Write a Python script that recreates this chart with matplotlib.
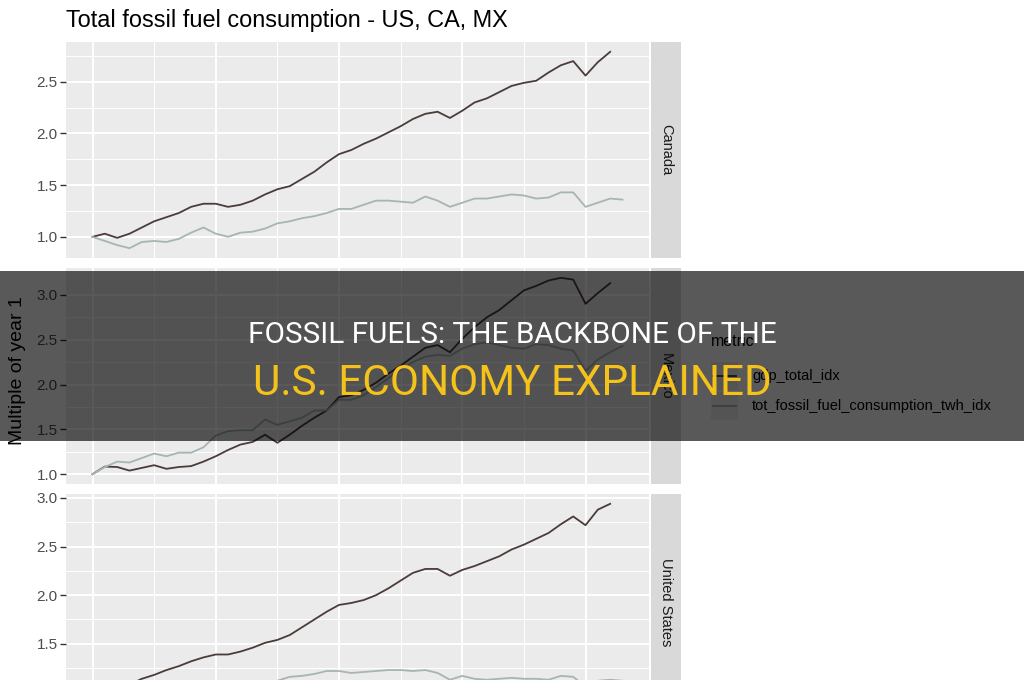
import matplotlib
matplotlib.use("Agg")
import matplotlib.pyplot as plt
from matplotlib.lines import Line2D
from matplotlib.patches import Rectangle
import numpy as np

# ── data (index, multiple of 1980 value) ─────────────────────────────────────
YEARS_GDP = list(range(1980, 2023))
YEARS_FOSSIL = list(range(1980, 2024))

COUNTRIES = ["Canada", "Mexico", "United States"]

CANADA_GDP = [1.00, 1.03, 0.99, 1.03, 1.09, 1.15, 1.19, 1.23, 1.29, 1.32,
              1.32, 1.29, 1.31, 1.35, 1.41, 1.46, 1.49, 1.56, 1.63, 1.72,
              1.80, 1.84, 1.90, 1.95, 2.01, 2.07, 2.14, 2.19, 2.21, 2.15,
              2.22, 2.30, 2.34, 2.40, 2.46, 2.49, 2.51, 2.59, 2.66, 2.70,
              2.56, 2.69, 2.79]
CANADA_FOSSIL = [1.00, 0.96, 0.92, 0.89, 0.95, 0.96, 0.95, 0.98, 1.04, 1.09,
                 1.03, 1.00, 1.04, 1.05, 1.08, 1.13, 1.15, 1.18, 1.20, 1.23,
                 1.27, 1.27, 1.31, 1.35, 1.35, 1.34, 1.33, 1.39, 1.35, 1.29,
                 1.33, 1.37, 1.37, 1.39, 1.41, 1.40, 1.37, 1.38, 1.43, 1.43,
                 1.29, 1.33, 1.37, 1.36]

MEXICO_GDP = [1.00, 1.085, 1.08, 1.04, 1.07, 1.10, 1.06, 1.08, 1.09, 1.14,
              1.20, 1.27, 1.33, 1.36, 1.44, 1.35, 1.44, 1.54, 1.63, 1.71,
              1.86, 1.88, 1.94, 2.02, 2.12, 2.21, 2.31, 2.41, 2.44, 2.36,
              2.51, 2.64, 2.75, 2.83, 2.94, 3.05, 3.10, 3.16, 3.19, 3.17,
              2.90, 3.02, 3.13]
MEXICO_FOSSIL = [1.00, 1.08, 1.14, 1.13, 1.18, 1.23, 1.20, 1.24, 1.24, 1.30,
                 1.43, 1.48, 1.49, 1.49, 1.61, 1.55, 1.59, 1.63, 1.71, 1.71,
                 1.83, 1.83, 1.88, 1.97, 2.07, 2.17, 2.25, 2.31, 2.33, 2.32,
                 2.40, 2.45, 2.47, 2.44, 2.41, 2.40, 2.45, 2.44, 2.40, 2.38,
                 2.15, 2.28, 2.36, 2.43]

US_GDP = [1.00, 1.03, 1.02, 1.08, 1.14, 1.18, 1.23, 1.27, 1.32, 1.36,
          1.39, 1.39, 1.42, 1.46, 1.51, 1.54, 1.59, 1.67, 1.75, 1.83,
          1.90, 1.92, 1.95, 2.00, 2.07, 2.15, 2.23, 2.27, 2.27, 2.20,
          2.26, 2.30, 2.35, 2.40, 2.47, 2.52, 2.58, 2.64, 2.73, 2.81,
          2.72, 2.88, 2.94]
US_FOSSIL = [1.00, 0.96, 0.92, 0.92, 0.96, 0.96, 0.97, 1.00, 1.04, 1.05,
             1.04, 1.03, 1.05, 1.07, 1.09, 1.12, 1.16, 1.17, 1.19, 1.22,
             1.22, 1.20, 1.21, 1.22, 1.23, 1.23, 1.22, 1.23, 1.20, 1.13,
             1.17, 1.14, 1.13, 1.14, 1.15, 1.14, 1.14, 1.13, 1.17, 1.16,
             1.06, 1.12, 1.13, 1.12]

SERIES = {
    "Canada": (CANADA_GDP, CANADA_FOSSIL),
    "Mexico": (MEXICO_GDP, MEXICO_FOSSIL),
    "United States": (US_GDP, US_FOSSIL),
}

METRICS = ["gdp_total_idx", "tot_fossil_fuel_consumption_twh_idx"]

# ── style ────────────────────────────────────────────────────────────────────
GDP_COLOR = "#4b3b39"
FOSSIL_COLOR = "#a6b5b4"
PANEL_BG = "#ebebeb"
STRIP_BG = "#d9d9d9"
TICK_TXT = "#4d4d4d"
YELLOW = "#f4c21b"
SANS = ["Liberation Sans", "DejaVu Sans"]
HEAD = ["Roboto", "DejaVu Sans"]

W, H = 1024, 680
fig = plt.figure(figsize=(W / 100, H / 100), dpi=100)
fig.patch.set_facecolor("white")


def px_rect(x0, y0, x1, y1):
    """pixel box (top-left origin) -> figure fraction rect"""
    return [x0 / W, 1 - y1 / H, (x1 - x0) / W, (y1 - y0) / H]


def gg_expand(lo, hi, mult=0.05):
    pad = (hi - lo) * mult
    return lo - pad, hi + pad


panel_tops = [42, 268, 494]
PANEL_H = 216
xlim = gg_expand(min(YEARS_FOSSIL), max(YEARS_FOSSIL))

for country, top in zip(COUNTRIES, panel_tops):
    gdp, fossil = SERIES[country]
    ax = fig.add_axes(px_rect(66, top, 649, top + PANEL_H))
    ax.set_facecolor(PANEL_BG)
    for s in ax.spines.values():
        s.set_visible(False)

    ax.plot(YEARS_GDP, gdp, color=GDP_COLOR, lw=1.3, zorder=3)
    ax.plot(YEARS_FOSSIL, fossil, color=FOSSIL_COLOR, lw=1.3, zorder=3)

    lo = min(min(gdp), min(fossil))
    hi = max(max(gdp), max(fossil))
    ax.set_xlim(*xlim)

    ax.set_xticks([1980, 1990, 2000, 2010, 2020])
    ax.set_xticks([1985, 1995, 2005, 2015], minor=True)
    yt = np.arange(1.0, 3.01, 0.5)
    ax.set_yticks(yt)
    ax.set_yticks(yt[:-1] + 0.25, minor=True)
    ax.set_yticklabels([f"{v:.1f}" for v in yt])
    ax.set_ylim(*gg_expand(lo, hi))
    ax.grid(which="major", color="white", lw=1.4, zorder=1)
    ax.grid(which="minor", color="white", lw=0.7, zorder=1)
    ax.set_axisbelow(True)
    ax.tick_params(axis="x", which="both", length=0, labelbottom=False)
    ax.tick_params(axis="y", which="minor", length=0)
    ax.tick_params(axis="y", which="major", length=4, width=1, color="#333333",
                   labelsize=11, labelcolor=TICK_TXT, pad=2)
    for lab in ax.get_yticklabels():
        lab.set_family(SANS)

    sax = fig.add_axes(px_rect(651, top, 681, top + PANEL_H))
    sax.set_facecolor(STRIP_BG)
    sax.set_xticks([])
    sax.set_yticks([])
    for s in sax.spines.values():
        s.set_visible(False)
    sax.text(0.5, 0.5, country, rotation=-90, ha="center", va="center",
             fontsize=10.5, color="#1a1a1a", family=SANS, transform=sax.transAxes)

# title + axis label
title = fig.text(66 / W, 1 - 27 / H, "Total fossil fuel consumption - US, CA, MX",
                 fontsize=17, color="black", family=SANS, ha="left", va="baseline")
fig.text(18 / W, 1 - 371 / H, "Multiple of year 1", rotation=90, ha="center",
         va="center", fontsize=14, color="black", family=SANS)

# legend (manual, ggplot style)
fig.text(711 / W, 1 - 342 / H, "metric", fontsize=11.5, family=SANS,
         ha="left", va="center")
for i, (metric, col) in enumerate(zip(METRICS, [GDP_COLOR, FOSSIL_COLOR])):
    yc = 376 + i * 30
    fig.add_artist(Rectangle((711 / W, 1 - (yc + 14) / H), 27 / W, 28 / H,
                             transform=fig.transFigure, facecolor="#f2f2f2",
                             edgecolor="none"))
    fig.add_artist(Line2D([713 / W, 736 / W], [1 - yc / H, 1 - yc / H],
                          transform=fig.transFigure, color=col, lw=1.3))
    fig.text(752 / W, 1 - yc / H, metric, fontsize=10.5, family=SANS,
             ha="left", va="center")

# dark overlay banner with headline
fig.add_artist(Rectangle((0, 1 - 441 / H), 1, 170 / H, transform=fig.transFigure,
                         facecolor="black", alpha=0.65, edgecolor="none", zorder=10))
line1 = fig.text(0.5, 1 - 343 / H, "FOSSIL FUELS: THE BACKBONE OF THE", color="white",
                 fontsize=19, family=HEAD, ha="center", va="baseline", zorder=11)
line2 = fig.text(0.5, 1 - 395 / H, "U.S. ECONOMY EXPLAINED", color=YELLOW,
                 fontsize=27, family=HEAD, ha="center", va="baseline", zorder=11)

# fit text widths to the measured layout
renderer = fig.canvas.get_renderer()
for txt, target in [(line1, 527), (line2, 518), (title, 442)]:
    w = txt.get_window_extent(renderer).width
    txt.set_fontsize(txt.get_fontsize() * target / w)

fig.savefig("out.png", dpi=100, facecolor="white")
